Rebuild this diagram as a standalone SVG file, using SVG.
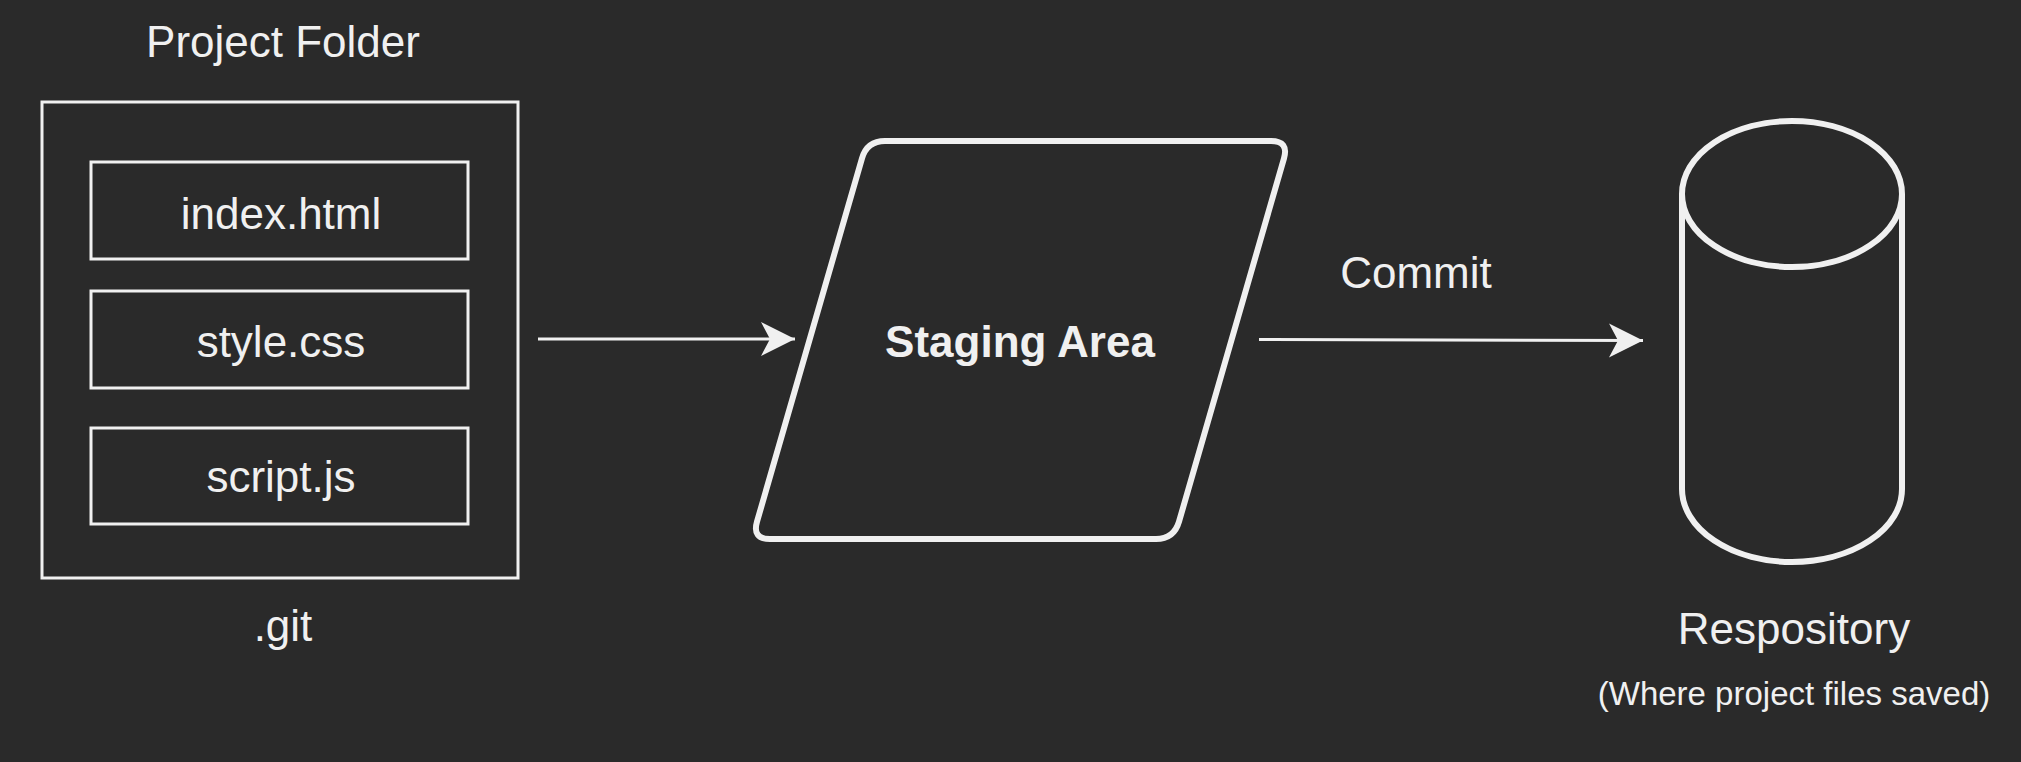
<svg xmlns="http://www.w3.org/2000/svg" width="2021" height="762" viewBox="0 0 2021 762">
<defs>
<style>
.t{font-family:"Liberation Sans",Arial,Helvetica,sans-serif;font-size:44px;fill:#f0f0f0;text-anchor:middle}
.b{font-weight:bold}
.box{fill:none;stroke:#f0f0f0;stroke-width:3}
.thick{fill:none;stroke:#f0f0f0;stroke-width:6;stroke-linejoin:round}
.edge{fill:none;stroke:#f0f0f0;stroke-width:3}
</style>
<marker id="arr" markerUnits="userSpaceOnUse" markerWidth="40" markerHeight="40" viewBox="-35 -20 40 40" refX="0" refY="0" orient="auto">
<path d="M0,0 L-34,-17 L-25,0 L-34,17 Z" fill="#f0f0f0"/>
</marker>
</defs>
<rect width="2021" height="762" fill="#2a2a2a"/>
<g id="project-folder">
<text class="t" x="283" y="57">Project Folder</text>
<rect class="box" x="42" y="102" width="476" height="476"/>
<text class="t" x="283" y="641">.git</text>
</g>
<g id="index-html">
<rect class="box" x="91" y="162" width="377" height="97"/>
<text class="t" x="281" y="229">index.html</text>
</g>
<g id="style-css">
<rect class="box" x="91" y="291" width="377" height="97"/>
<text class="t" x="281" y="357">style.css</text>
</g>
<g id="script-js">
<rect class="box" x="91" y="428" width="377" height="96"/>
<text class="t" x="281" y="492">script.js</text>
</g>
<g id="staging-area">
<path class="thick" d="M885,141 L1271,141 Q1289,141 1284,158.3 L1179,521.7 Q1174,539 1156,539 L770,539 Q752,539 757,521.7 L862,158.3 Q867,141 885,141 Z"/>
<text class="t b" x="1020" y="357">Staging Area</text>
</g>
<g id="repository">
<path class="thick" d="M1682,194 A110,73 0 0 1 1902,194 L1902,489 A110,73 0 0 1 1682,489 Z"/>
<path class="thick" d="M1682,194 A110,73 0 0 0 1902,194"/>
<text class="t" x="1794" y="644">Respository</text>
<text class="t" style="font-size:33px" x="1794" y="705">(Where project files saved)</text>
</g>
<g id="connectors">
<line class="edge" x1="538" y1="339" x2="795" y2="339" marker-end="url(#arr)"/>
<line class="edge" x1="1259" y1="339.5" x2="1643" y2="340.5" marker-end="url(#arr)"/>
<text class="t" x="1416" y="288">Commit</text>
</g>
</svg>
